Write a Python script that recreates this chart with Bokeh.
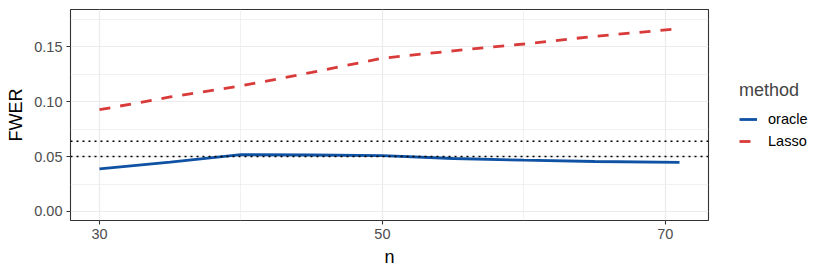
from bokeh.plotting import figure
from bokeh.models import (Range1d, FixedTicker, PrintfTickFormatter, Legend, LegendItem, Span)
from bokeh.embed import file_html
from bokeh.resources import INLINE

n = [30, 35, 40, 45, 50, 55, 60, 65, 71]
oracle = [0.0387, 0.0450, 0.0517, 0.0514, 0.0508, 0.0482, 0.0467, 0.0455, 0.0447]
lasso = [0.0926, 0.1042, 0.1143, 0.1265, 0.1395, 0.1462, 0.1524, 0.1594, 0.1663]
ref_lines = [0.05, 0.064]
x_ticks = [30, 50, 70]
x_minor = [40, 60]
y_ticks = [0.0, 0.05, 0.10, 0.15]
y_minor = [0.025, 0.075, 0.125, 0.175]

FONT = "Liberation Sans"
BLUE = "#0F52A3"
RED = "#D93A3A"

p = figure(frame_width=638, frame_height=211, output_backend="svg", toolbar_location=None,
           x_range=Range1d(27.95, 73.05), y_range=Range1d(-0.0082, 0.1838),
           min_border_left=70, min_border_right=106, min_border_top=9, min_border_bottom=48)
p.background_fill_color = "white"
p.border_fill_color = "white"
p.outline_line_color = "#333333"
p.outline_line_width = 1.1

p.xaxis.ticker = FixedTicker(ticks=x_ticks, minor_ticks=x_minor)
p.yaxis.ticker = FixedTicker(ticks=y_ticks, minor_ticks=y_minor)
p.yaxis.formatter = PrintfTickFormatter(format="%.2f")

for g in (p.xgrid, p.ygrid):
    g.grid_line_color = "#EBEBEB"
    g.grid_line_width = 1.2
    g.minor_grid_line_color = "#EBEBEB"
    g.minor_grid_line_width = 0.7

for ax in (p.xaxis, p.yaxis):
    ax.axis_line_color = None
    ax.major_tick_line_color = "#333333"
    ax.major_tick_line_width = 1.1
    ax.major_tick_out = 4
    ax.major_tick_in = 0
    ax.minor_tick_line_color = None
    ax.major_label_text_font = FONT
    ax.major_label_text_font_size = "14.5px"
    ax.major_label_text_color = "#4D4D4D"
    ax.major_label_standoff = 4
    ax.axis_label_text_font = FONT
    ax.axis_label_text_font_size = "18px"
    ax.axis_label_text_font_style = "normal"
    ax.axis_label_text_color = "black"
    ax.axis_label_standoff = 5

p.xaxis.axis_label = "n"
p.yaxis.axis_label = "FWER"

for yv in ref_lines:
    p.add_layout(Span(location=yv, dimension="width", line_color="black",
                      line_width=1.5, line_dash="2 4"))

r_or = p.line(n, oracle, line_color=BLUE, line_width=2.8)
r_la = p.line(n, lasso, line_color=RED, line_width=2.8, line_dash="11 10")

legend = Legend(items=[LegendItem(label="oracle", renderers=[r_or]),
                       LegendItem(label="Lasso", renderers=[r_la])],
                location="center_left")
legend.title = "method"
legend.title_text_font = FONT
legend.title_text_font_size = "18px"
legend.title_text_font_style = "normal"
legend.title_standoff = 9
legend.label_text_font = FONT
legend.label_text_font_size = "14.5px"
legend.label_text_color = "black"
legend.border_line_color = None
legend.background_fill_alpha = 0
legend.glyph_width = 18
legend.glyph_height = 18
legend.label_height = 18
legend.label_standoff = 11
legend.spacing = 4
legend.padding = 2
legend.margin = 31
p.add_layout(legend, "right")

open("out.html", "w").write(file_html(p, INLINE))
